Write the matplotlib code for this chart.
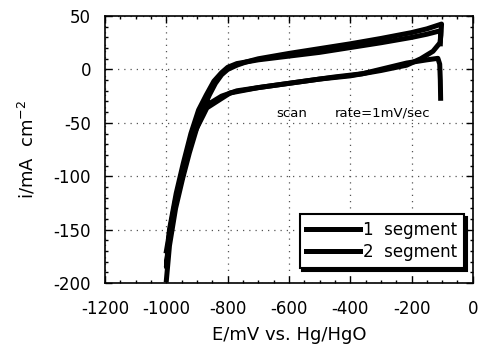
import matplotlib
matplotlib.use("Agg")
import matplotlib.pyplot as plt
from matplotlib.ticker import MultipleLocator

plt.rcParams['axes.unicode_minus'] = False
plt.rcParams['font.family'] = ['DejaVu Sans']

# segment 1: positive-going (upper band) then return (lower band)
seg1_E = [-1000, -988, -970, -947, -925, -910, -900, -880, -860, -840, -820, -800,
          -770, -740, -700, -650, -600, -500, -400, -300, -200, -150, -102,
          -104, -107, -130, -170, -216, -300, -400, -500, -600, -700, -770,
          -820, -860, -880, -900, -925, -947, -970, -990, -1000]
seg1_i = [-170, -150, -122, -99, -72, -57, -50, -37, -24, -13, -5, 0,
          4, 7, 10, 12.5, 15, 19.5, 24, 29, 34.5, 38, 42.5,
          32, 25, 17, 10, 4, -1, -6, -9, -13, -17, -20,
          -25, -32, -40, -54, -78, -102, -130, -165, -197]

# segment 2
seg2_E = [-106, -105, -150, -200, -300, -400, -500, -600, -700, -770, -800,
          -820, -845, -870, -895, -920, -945, -968, -990, -1000,
          -990, -965, -940, -910, -880, -868, -792, -700, -575, -450, -360,
          -216, -150, -114, -108, -106, -105]
seg2_i = [24, 36.3, 33, 30, 25, 20.5, 16, 12.5, 9, 5.5, 2,
          -3, -11, -24, -38, -60, -88, -116, -150, -185,
          -155, -118, -90, -60, -43, -36, -22, -17, -12, -7, -4,
          6, 9, 10.4, 5, -10, -27]

labels = ['1  segment', '2  segment']
xticks = [-1200, -1000, -800, -600, -400, -200, 0]
yticks = [-200, -150, -100, -50, 0, 50]

fig = plt.figure(figsize=(4.8, 3.49), dpi=100)
ax = fig.add_axes([0.219, 0.189, 0.766, 0.765])

ax.plot(seg1_E, seg1_i, color='black', lw=3.6, solid_joinstyle='round', label=labels[0])
ax.plot(seg2_E, seg2_i, color='black', lw=3.6, solid_joinstyle='round', label=labels[1])

ax.set_xlim(-1200, 0)
ax.set_ylim(-200, 50)
ax.set_xticks(xticks)
ax.set_yticks(yticks)
ax.xaxis.set_minor_locator(MultipleLocator(50))
ax.yaxis.set_minor_locator(MultipleLocator(10))
ax.tick_params(which='both', direction='in', top=True, right=True, labelsize=12, width=1)
ax.tick_params(which='major', length=5)
ax.tick_params(which='minor', length=2.5)
ax.tick_params(axis='x', pad=12)
ax.tick_params(axis='y', pad=10)
ax.grid(True, which='major', color='#555555', linestyle=(0, (1, 4)), linewidth=0.9)
for s in ax.spines.values():
    s.set_linewidth(1.2)

ax.set_xlabel('E/mV vs. Hg/HgO', fontsize=13, labelpad=6)
ax.set_ylabel('i/mA  cm$^{-2}$', fontsize=13, labelpad=12)

ax.text(-640, -41, 'scan', fontsize=9.5, ha='left', va='center')
ax.text(-452, -41, 'rate=1mV/sec', fontsize=9.5, ha='left', va='center')

leg = ax.legend(loc='lower right', bbox_to_anchor=(0.998, 0.026), fontsize=12,
                frameon=True, fancybox=False, edgecolor='black', handlelength=3.2,
                handletextpad=0.2, borderpad=0.4, labelspacing=0.25,
                shadow={'color': 'black', 'alpha': 1.0, 'ox': 2, 'oy': -2})
leg.get_frame().set_linewidth(1.5)

fig.savefig('out.png', dpi=100)
